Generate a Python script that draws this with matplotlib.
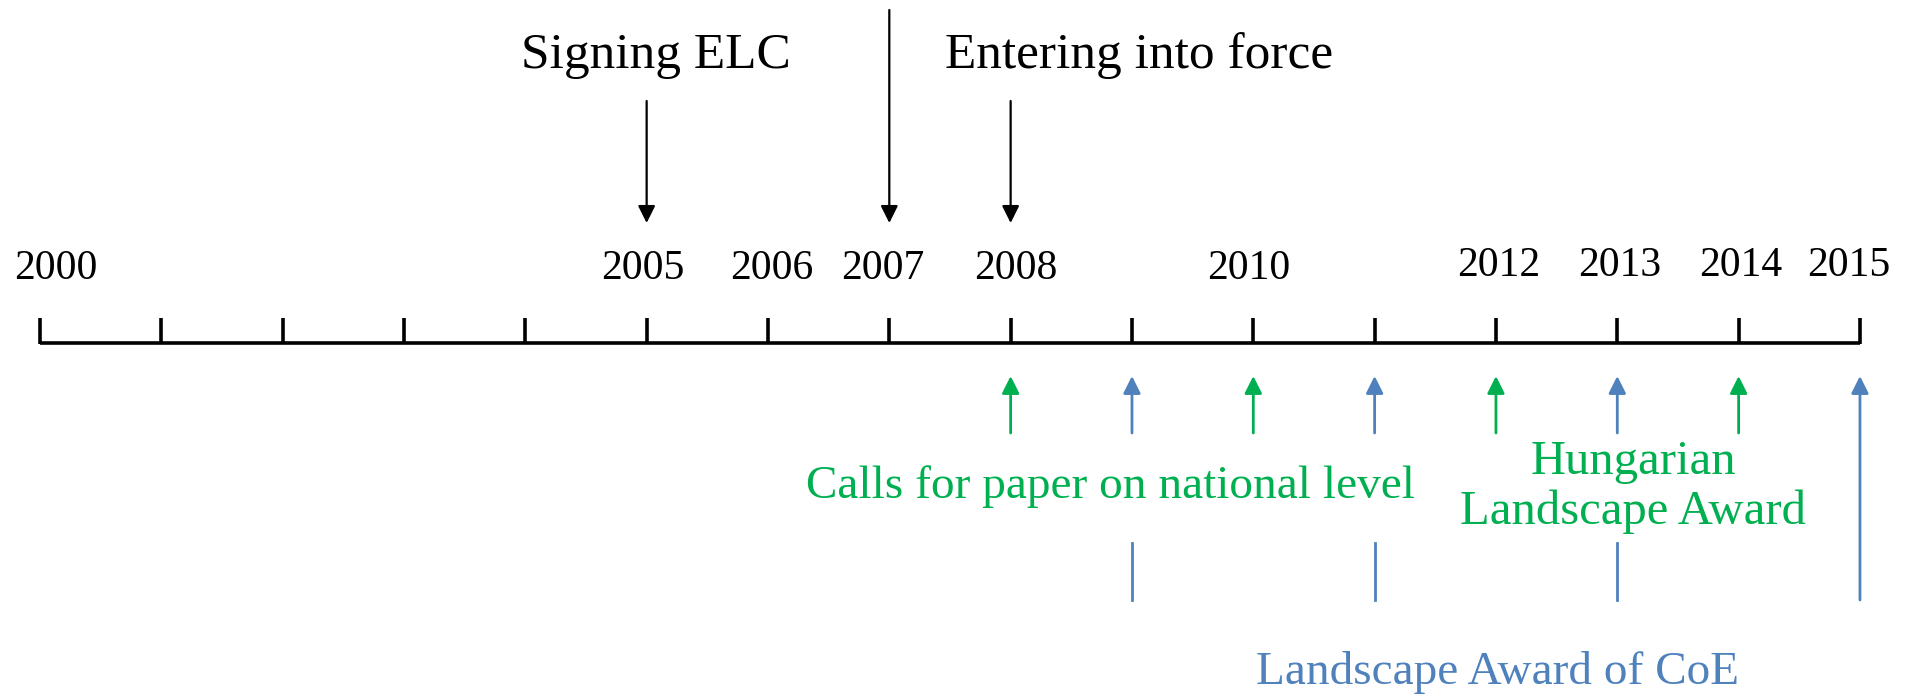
import matplotlib
matplotlib.use("Agg")
import matplotlib.pyplot as plt

# timeline data
years = list(range(2000, 2016))
labeled_years = [2000, 2005, 2006, 2007, 2008, 2010, 2012, 2013, 2014, 2015]
label_shift = {2000: 0.13, 2005: -0.03, 2006: 0.03, 2007: -0.05, 2008: 0.04,
               2010: -0.04, 2012: 0.02, 2013: 0.02, 2014: 0.02, 2015: -0.09}

elc_years = [2005, 2007, 2008]          # black down arrows
calls_years = [2008, 2010, 2012, 2014]  # green, calls for paper / hungarian award
coe_years = [2009, 2011, 2013]          # blue, landscape award of CoE
coe_final = 2015

GREEN = "#00B050"
BLUE = "#4F81BD"

plt.rcParams['font.family'] = ['Liberation Serif', 'DejaVu Serif']

fig = plt.figure(figsize=(19.12, 6.96), dpi=100)
ax = fig.add_axes([0, 0, 1, 1])
ax.set_xlim(2000 - 40 / 121.33, 2000 + 1872 / 121.33)
ax.set_ylim(696, 0)
ax.axis("off")

# axis line and ticks
ax.plot([years[0], years[-1]], [343, 343], color="black", lw=2.6, solid_capstyle="butt")
for y in years:
    ax.plot([y, y], [318, 344], color="black", lw=2.6, solid_capstyle="butt")

for y in labeled_years:
    ty = 266 if y >= 2012 else 269
    ax.text(y + label_shift[y], ty, str(y), ha="center", va="center", fontsize=30)


def arrow(x, y0, y1, color, lw=1.6):
    ax.annotate("", xy=(x, y1), xytext=(x, y0),
                arrowprops=dict(arrowstyle="-|>", color=color, lw=lw,
                                mutation_scale=26, shrinkA=0, shrinkB=0))


# black arrows
for y in elc_years:
    top = 10 if y == 2007 else 101
    arrow(y, top, 223, "black")
ax.text(2005.08, 56, "Signing ELC", ha="center", va="center", fontsize=37)
ax.text(2009.06, 56, "Entering into force", ha="center", va="center", fontsize=37)

# green arrows
for y in calls_years:
    arrow(y, 433, 376, GREEN, lw=2.0)
ax.text(2008.82, 487, "Calls for paper on national level", ha="center", va="center",
        fontsize=34, color=GREEN)
ax.text(2013.13, 462, "Hungarian", ha="center", va="center", fontsize=35, color=GREEN)
ax.text(2013.13, 512, "Landscape Award", ha="center", va="center", fontsize=35, color=GREEN)

# blue arrows
for y in coe_years:
    arrow(y, 433, 376, BLUE, lw=2.0)
    ax.plot([y, y], [543, 600], color=BLUE, lw=2.0)
arrow(coe_final, 600, 376, BLUE, lw=2.0)
ax.text(2012.01, 673, "Landscape Award of CoE", ha="center", va="center",
        fontsize=34, color=BLUE)

fig.savefig("out.png", dpi=100)
